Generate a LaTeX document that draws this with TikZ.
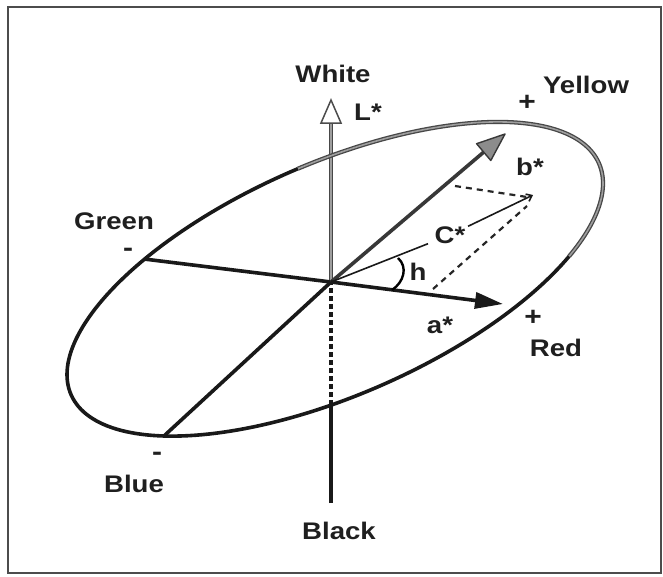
\documentclass[tikz,border=0pt]{standalone}
\usepackage{fontspec}
\setmainfont{Liberation Sans}[FakeStretch=1.15]
\usetikzlibrary{arrows.meta}
\begin{document}
\begin{tikzpicture}[x=1pt,y=-1pt,
  lbl/.style={font=\fontsize{24}{24}\selectfont\bfseries, text=black!88, inner sep=0pt, text height=17pt, text depth=0pt},
  sgn/.style={font=\fontsize{26}{26}\selectfont\bfseries, text=black!88, inner sep=0pt},
  axisline/.style={line width=3.6pt, draw=black!90},
  backline/.style={draw=black!72, line width=1.3pt, double=black!38, double distance=1.6pt},
  dashline/.style={line width=2.2pt, dash pattern=on 6pt off 5pt, draw=black!85},
  thinvec/.style={line width=1.6pt, draw=black!90}
]
\fill[white] (0,0) rectangle (663,576);
\useasboundingbox (0,0) rectangle (663,576);
\draw[line width=1.6pt, draw=black!70] (8,7) rectangle (661,573);

% coordinates
\coordinate (O) at (331,282);
\coordinate (Lbot) at (331,503);
\coordinate (Lcross) at (331,405);
\coordinate (Lbase) at (331,122);
\coordinate (Ltip) at (331,100);
\coordinate (G) at (144,259);
\coordinate (B) at (165,435);
\coordinate (Y) at (505,134);
\coordinate (Yb) at (483.7,152.1);
\coordinate (A) at (503,304);
\coordinate (Ct) at (533,195);
\coordinate (P1) at (455,186);
\coordinate (P1e) at (527,197);
\coordinate (P2) at (433,289);
\coordinate (P2e) at (527,206);

% L* axis
\draw[axisline] (Lbot) -- (Lcross);
\draw[line width=3.6pt, draw=black!90, dash pattern=on 5pt off 3pt] (Lcross) -- (O);
\draw[backline] (O) -- (Lbase);
\draw[draw=black!70, line width=1.5pt, fill=white, line join=miter] (Ltip) -- (321,123) -- (341,123) -- cycle;

% ellipse
\draw[axisline, line join=round] plot[domain=88:321, samples=140, variable=\t]
  ({335+264*cos(\t)-46.2*sin(\t)},{279-115.6*cos(\t)-106.4*sin(\t)});
\draw[backline] plot[domain=-39:88, samples=100, variable=\t]
  ({335+264*cos(\t)-46.2*sin(\t)},{279-115.6*cos(\t)-106.4*sin(\t)});

% a* and b* axes
\draw[axisline] (G) -- (O);
\draw[axisline] (B) -- (O);
\draw[line width=3.6pt, draw=black!78] (O) -- (Yb);
\draw[draw=black!78, line width=1.4pt, fill=black!45, line join=round] (Y) -- (490.8,160.5) -- (476.6,143.7) -- cycle;
\draw[axisline, -{Triangle[length=28pt,width=16pt]}] (O) -- (A);

% C* vector
\node[lbl, inner xsep=7pt] (Cl) at (450,235) {C*};
\draw[thinvec] (O) -- (Cl);
\draw[thinvec, -{Straight Barb[length=5pt,width=8pt]}] (Cl) -- (Ct);
\draw[dashline] (P1) -- (P1e);
\draw[dashline] (P2) -- (P2e);

% hue angle
\draw[line width=2.4pt] (398,258) .. controls (408,267) and (404,282) .. (392,290);

% labels
\node[lbl] (white) at (333,74) {White};
\node[lbl] (Lst) at (368,112) {L*};
\node[lbl] (yellow) at (586,85) {Yellow};
\node[lbl] (bst) at (530,167) {b*};
\node[lbl] (hl) at (418,272) {h};
\node[lbl] (ast) at (440,325) {a*};
\node[lbl] (red) at (556,348) {Red};
\node[lbl] (green) at (114,221) {Green};
\node[lbl] (blue) at (134,484) {Blue};
\node[lbl] (black) at (339,531) {Black};
\node[sgn] (py) at (527,103) {+};
\node[sgn] (pr) at (533,318) {+};
\node[sgn] (mg) at (128,252) {-};
\node[sgn] (mb) at (157,456) {-};
\end{tikzpicture}
\end{document}
